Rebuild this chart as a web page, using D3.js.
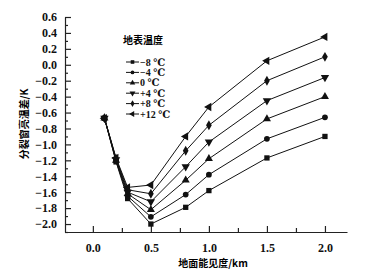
<html>
<head>
<meta charset="utf-8" />
<script src="https://cdnjs.cloudflare.com/ajax/libs/d3/7.6.1/d3.min.js"></script>
<style>
  body { margin: 0; background: #fff; }
  .axis path, .axis line { stroke: #222; stroke-width: 1.2; }
</style>
</head>
<body>
<svg width="382" height="276"></svg>
<script>
  const visibility = [0.1, 0.2, 0.3, 0.5, 0.8, 1.0, 1.5, 2.0];
  const seriesNames = ["−8 ℃", "−4 ℃", "0 ℃", "+4 ℃", "+8 ℃", "+12 ℃"];
  const sMinus8 = [-0.67, -1.22, -1.68, -2.00, -1.79, -1.58, -1.17, -0.90];
  const sMinus4 = [-0.67, -1.21, -1.65, -1.91, -1.63, -1.38, -0.93, -0.66];
  const sZero   = [-0.67, -1.20, -1.62, -1.82, -1.45, -1.18, -0.68, -0.40];
  const sPlus4  = [-0.67, -1.19, -1.60, -1.72, -1.28, -0.97, -0.45, -0.16];
  const sPlus8  = [-0.67, -1.18, -1.57, -1.62, -1.08, -0.76, -0.20, 0.10];
  const sPlus12 = [-0.67, -1.17, -1.54, -1.51, -0.90, -0.53, 0.05, 0.35];

  const allSeries = [sMinus8, sMinus4, sZero, sPlus4, sPlus8, sPlus12];
  const symbols = [d3.symbolSquare, d3.symbolCircle, d3.symbolTriangle, "down", d3.symbolDiamond, "left"];
  const serif = "'Liberation Serif', 'DejaVu Serif', serif";
  const cjk = "'Noto Sans CJK SC', sans-serif";

  const svg = d3.select("svg");
  const x = d3.scaleLinear().domain([-0.24, 2.19]).range([65, 347]);
  const y = d3.scaleLinear().domain([-2.1, 0.6]).range([232, 17]);

  // axes, ticks pointing inward
  const fmt = d => (d < 0 ? "−" : "") + Math.abs(d).toFixed(1);
  const xAxis = svg.append("g").attr("class", "axis").attr("transform", "translate(0,232)")
    .call(d3.axisBottom(x).tickValues(d3.range(0, 2.01, 0.25)).tickSize(-4)
      .tickFormat(d => (Math.round(d * 100) % 50 === 0 ? fmt(d) : "")).tickSizeOuter(0));
  xAxis.selectAll(".tick text").attr("dy", "1.45em");
  xAxis.selectAll(".tick").filter(d => Math.round(d * 100) % 50 === 0)
    .select("line").attr("y2", -6);

  const yAxis = svg.append("g").attr("class", "axis").attr("transform", "translate(65,0)")
    .call(d3.axisLeft(y).tickValues(d3.range(-21, 7, 1).map(v => v / 10)).tickSize(-3)
      .tickFormat(d => (Math.round(d * 10) % 2 === 0 ? fmt(d) : "")).tickSizeOuter(0));
  yAxis.selectAll(".tick").filter(d => Math.round(d * 10) % 2 === 0).select("line").attr("x2", 6);
  yAxis.selectAll(".tick text").attr("x", -8);

  svg.selectAll(".axis").attr("font-family", serif).attr("font-size", 12).attr("font-weight", "bold");
  svg.selectAll(".axis .tick text").attr("fill", "#111");

  // lines
  const line = d3.line().x((d, i) => x(visibility[i])).y(d => y(d));
  function markerPath(s, size) {
    if (s === "down" || s === "left") return d3.symbol(d3.symbolTriangle, size + 2)();
    return d3.symbol(s, s === d3.symbolCircle ? size - 2 : size)();
  }
  function rot(s) { return s === "down" ? 180 : s === "left" ? -90 : 0; }

  allSeries.forEach((vals, k) => {
    svg.append("path").datum(vals).attr("d", line)
      .attr("fill", "none").attr("stroke", "#111").attr("stroke-width", 1);
    svg.selectAll(null).data(vals).enter().append("path")
      .attr("d", markerPath(symbols[k], 28))
      .attr("transform", (d, i) => `translate(${x(visibility[i])},${y(d)}) rotate(${rot(symbols[k])})`)
      .attr("fill", "#111");
  });

  // legend
  svg.append("text").attr("font-family", cjk).attr("font-weight", "bold").attr("font-size", 10)
    .attr("x", 123).attr("y", 44).text("地表温度");
  seriesNames.forEach((name, k) => {
    const ly = 62 + k * 10.4;
    svg.append("line").attr("x1", 126).attr("x2", 139).attr("y1", ly).attr("y2", ly)
      .attr("stroke", "#111").attr("stroke-width", 1);
    svg.append("path").attr("d", markerPath(symbols[k], 13))
      .attr("transform", `translate(132.5,${ly}) rotate(${rot(symbols[k])})`).attr("fill", "#111");
    svg.append("text").attr("font-family", serif).attr("font-weight", "bold").attr("font-size", 10)
      .attr("x", 140).attr("y", ly + 3.5).attr("fill", "#111").text(name);
  });

  // titles
  svg.append("text").attr("font-family", cjk).attr("font-weight", "bold").attr("font-size", 10)
    .attr("transform", "translate(28,124) rotate(-90)").attr("text-anchor", "middle")
    .text("分裂窗亮温差/K");
  svg.append("text").attr("font-family", cjk).attr("font-weight", "bold").attr("font-size", 10)
    .attr("x", 213).attr("y", 267).attr("text-anchor", "middle").text("地面能见度/km");
</script>
</body>
</html>
